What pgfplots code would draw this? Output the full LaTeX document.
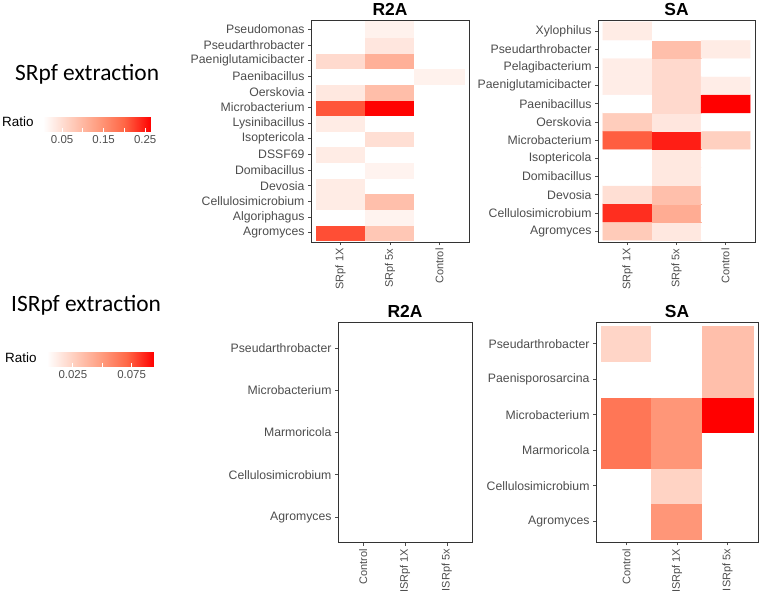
\documentclass[border=0pt]{standalone}
\usepackage{pgfplots}
\pgfplotsset{compat=1.18}
\usepackage{fontspec}
\setmainfont{Liberation Sans}
\newfontfamily\calib{Carlito}
\usetikzlibrary{calc}
\definecolor{axtxt}{HTML}{4D4D4D}
\definecolor{axline}{HTML}{333333}
\pgfplotsset{
  colormap={ggred}{rgb255=(255,255,255) rgb255=(255,207,191) rgb255=(255,158,129) rgb255=(255,103,70) rgb255=(255,0,0)},
  heat/.style={
    scale only axis,
    anchor=north west,
    axis line style={axline, line width=0.9bp},
    tick align=outside,
    major tick length=3bp,
    tick style={axtxt, line width=0.7bp},
    xtick pos=left, ytick pos=left,
    yticklabel style={font=\fontsize{12.3}{13}\selectfont, text=axtxt},
    xticklabel style={font=\fontsize{11}{12}\selectfont, text=axtxt, rotate=90, anchor=east},
    xtick={1,2,3}, xmin=0.4, xmax=3.6, ymin=0.4,
    colormap name=ggred,
    axis on top,
    every axis title/.style={font=\fontsize{17.5}{18}\selectfont\bfseries, text=black, at={(0.5,1)}, anchor=base, yshift=5bp},
  },
  cbar/.style={
    scale only axis,
    anchor=north west,
    height=22bp,
    tick align=inside,
    major tick length=4bp,
    xtick pos=both,
    xticklabel pos=left,
    scaled x ticks=false,
    tick style={white, line width=0.8bp},
    axis line style={draw=none},
    xticklabel style={font=\fontsize{11.5}{12}\selectfont, text=axtxt, rotate=0, anchor=north, /pgf/number format/fixed},
    yticklabels={}, ytick=\empty,
  },
}
\begin{document}
\begin{tikzpicture}
\useasboundingbox (0,0) rectangle (760bp,-594bp);

% ---------------- top R2A
\begin{axis}[heat,
  at={(311bp,-20bp)}, width=158bp, height=222bp,
  title={R2A},
  ymax=14.6, ytick={1,...,14},
  yticklabels={Agromyces,Algoriphagus,Cellulosimicrobium,Devosia,Domibacillus,DSSF69,Isoptericola,Lysinibacillus,Microbacterium,Oerskovia,Paenibacillus,Paeniglutamicibacter,Pseudarthrobacter,Pseudomonas},
  xticklabels={SRpf 1X,SRpf 5x,Control},
  point meta min=0.004, point meta max=0.264,
  colorbar horizontal,
  colorbar style={cbar,
    at={($(parent axis.north west)+(-268bp,-81bp)$)},
    width=108bp,
    xtick={0.05,0.1,0.15,0.2,0.25},
    xticklabels={0.05,,0.15,,0.25},
  },
]
\addplot[matrix plot*, mesh/cols=3, point meta=explicit] table[meta=v] {
x y v
1 1 0.215
2 1 0.080
3 1 0
1 2 0
2 2 0.020
3 2 0
1 3 0.030
2 3 0.090
3 3 0
1 4 0.030
2 4 0
3 4 0
1 5 0
2 5 0.020
3 5 0
1 6 0.030
2 6 0
3 6 0
1 7 0
2 7 0.048
3 7 0
1 8 0.030
2 8 0
3 8 0
1 9 0.210
2 9 0.262
3 9 0
1 10 0.035
2 10 0.092
3 10 0
1 11 0
2 11 0
3 11 0.022
1 12 0.054
2 12 0.110
3 12 0
1 13 0
2 13 0.038
3 13 0
1 14 0
2 14 0.022
3 14 0
};
\end{axis}

% ---------------- top SA
\begin{axis}[heat,
  at={(598bp,-20bp)}, width=157bp, height=222bp,
  title={SA},
  ymax=12.6, ytick={1,...,12},
  yticklabels={Agromyces,Cellulosimicrobium,Devosia,Domibacillus,Isoptericola,Microbacterium,Oerskovia,Paenibacillus,Paeniglutamicibacter,Pelagibacterium,Pseudarthrobacter,Xylophilus},
  xticklabels={SRpf 1X,SRpf 5x,Control},
  point meta min=0.004, point meta max=0.264,
]
\addplot[matrix plot*, mesh/cols=3, point meta=explicit] table[meta=v] {
x y v
1 1 0.075
2 1 0.035
3 1 0
1 2 0.235
2 2 0.115
3 2 0
1 3 0.048
2 3 0.090
3 3 0
1 4 0
2 4 0.035
3 4 0
1 5 0
2 5 0.035
3 5 0
1 6 0.205
2 6 0.245
3 6 0.068
1 7 0.072
2 7 0.038
3 7 0
1 8 0
2 8 0.055
3 8 0.264
1 9 0.028
2 9 0.055
3 9 0.028
1 10 0.028
2 10 0.055
3 10 0
1 11 0
2 11 0.090
3 11 0.030
1 12 0.030
2 12 0
3 12 0
};
\end{axis}

% ---------------- bottom R2A (empty)
\begin{axis}[heat,
  at={(338bp,-322.5bp)}, width=134bp, height=220bp,
  title={R2A},
  ymax=5.6, ytick={1,...,5},
  yticklabels={Agromyces,Cellulosimicrobium,Marmoricola,Microbacterium,Pseudarthrobacter},
  xticklabels={Control,ISRpf 1X,ISRpf 5x},
]
\end{axis}

% ---------------- bottom SA
\begin{axis}[heat,
  at={(596bp,-322.5bp)}, width=162bp, height=220bp,
  title={SA},
  ymax=6.6, ytick={1,...,6},
  yticklabels={Agromyces,Cellulosimicrobium,Marmoricola,Microbacterium,Paenisporosarcina,Pseudarthrobacter},
  xticklabels={Control,ISRpf 1X,ISRpf 5x},
  point meta min=0.003, point meta max=0.094,
  colorbar horizontal,
  colorbar style={cbar,
    at={($(parent axis.north west)+(-549bp,-13.5bp)$)},
    width=107bp,
    xtick={0.025,0.05,0.075},
    xticklabels={0.025,,0.075},
  },
]
\addplot[matrix plot*, mesh/cols=3, point meta=explicit] table[meta=v] {
x y v
1 1 0
2 1 0.052
3 1 0
1 2 0
2 2 0.024
3 2 0
1 3 0.065
2 3 0.052
3 3 0
1 4 0.065
2 4 0.052
3 4 0.094
1 5 0
2 5 0
3 5 0.033
1 6 0.023
2 6 0
3 6 0.033
};
\end{axis}

% ---------------- left texts
\node[anchor=base west, inner sep=0, font=\calib\fontsize{23.5}{24}\selectfont] at (15bp,-80bp) {SRpf extraction};
\node[anchor=base west, inner sep=0, font=\fontsize{13.5}{14}\selectfont] at (2bp,-126bp) {Ratio};
\node[anchor=base west, inner sep=0, font=\calib\fontsize{23.5}{24}\selectfont] at (11bp,-311bp) {ISRpf extraction};
\node[anchor=base west, inner sep=0, font=\fontsize{13.5}{14}\selectfont] at (5bp,-362bp) {Ratio};
\end{tikzpicture}
\end{document}
